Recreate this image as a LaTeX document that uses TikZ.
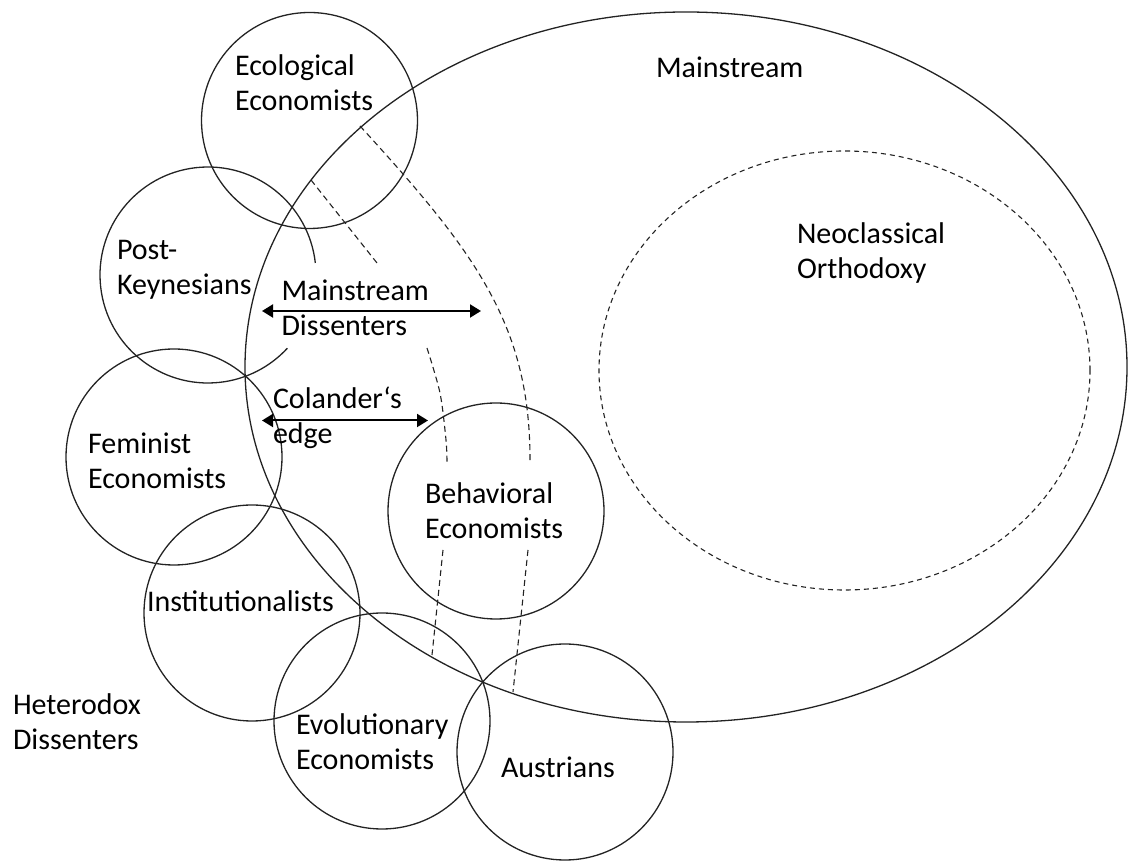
\documentclass[tikz,border=0pt]{standalone}
\usepackage{fontspec}
\setmainfont{Carlito}
\usetikzlibrary{arrows.meta,shapes.geometric}
\definecolor{ink}{RGB}{35,35,35}
\newcommand\twoline[2]{\vtop{\hbox{#1}\hbox{#2}}}
\begin{document}
\begin{tikzpicture}[x=1pt,y=1pt,
  lbl/.style={anchor=base west, inner sep=0pt, outer sep=0pt, font=\fontsize{30}{35}\selectfont},
  grp/.style={circle, draw=ink, line width=1.3pt, minimum size=216pt, inner sep=0pt},
  dsh/.style={draw=ink, line width=1.1pt, dash pattern=on 6pt off 4pt},
  dbl/.style={draw=black, line width=2pt, {Triangle[length=11pt,width=13pt]}-{Triangle[length=11pt,width=13pt]}}]
\useasboundingbox (0,0) rectangle (1129,867);

% mainstream ellipse and orthodoxy
\node[ellipse, draw=ink, line width=1.3pt, minimum width=882pt, minimum height=710pt, inner sep=0pt] (main) at (686,500) {};
\node[ellipse, draw=ink, line width=1.1pt, dash pattern=on 5pt off 4pt, minimum width=491pt, minimum height=439pt, inner sep=0pt] (neo) at (844.5,496.5) {};

% school circles
\node[grp] (eco) at (309.5,746.5) {};
\coordinate (pk) at (208,592);
\draw[ink, line width=1.3pt] (pk) ++(6.4:108) arc[start angle=6.4, end angle=317.3, radius=108];
\node[grp] (fem) at (174,410) {};
\node[grp] (inst) at (252,254) {};
\node[grp] (evo) at (382,146) {};
\node[grp] (aus) at (565,115) {};
\node[grp] (beh) at (496,356) {};

% dashed boundaries of mainstream dissenters / Colander's edge
\draw[dsh] (311,687) -- (377,604);
\draw[dsh] plot[smooth] coordinates {(427,519) (440,474) (446,427) (447,405)};
\draw[dsh] (443,317) -- (432,212);
\draw[dsh] (360,741) .. controls (478,612) and (531,540) .. (530,403);
\draw[dsh] (528,317) -- (513,175);

% arrows
\coordinate (mdL) at (262,556);
\coordinate (mdR) at (481,556);
\coordinate (ceL) at (262,446.5);
\coordinate (ceR) at (428,446.5);
\draw[dbl] (mdL) -- (mdR);
\draw[dbl] (ceL) -- (ceR);

% labels
\node[lbl] (tEco) at (235,791) {\twoline{Ecological}{Economists}};
\node[lbl] (tMain) at (656,789.5) {Mainstream};
\node[lbl] (tNeo) at (797,623.5) {\twoline{Neoclassical}{Orthodoxy}};
\node[lbl] (tPK) at (117,607.5) {\twoline{Post-}{Keynesians}};
\node[lbl] (tMD) at (281.5,566.5) {\twoline{Mainstream}{Dissenters}};
\node[lbl] (tCE) at (273,458.5) {\twoline{Colander‘s}{edge}};
\node[lbl] (tFem) at (88,413.5) {\twoline{Feminist}{Economists}};
\node[lbl] (tBeh) at (425,363.5) {\twoline{Behavioral}{Economists}};
\node[lbl] (tInst) at (147,255.5) {Institutionalists};
\node[lbl] (tHet) at (13,152) {\twoline{Heterodox}{Dissenters}};
\node[lbl] (tEvo) at (296,132) {\twoline{Evolutionary}{Economists}};
\node[lbl] (tAus) at (501,89.5) {Austrians};
\end{tikzpicture}
\end{document}
